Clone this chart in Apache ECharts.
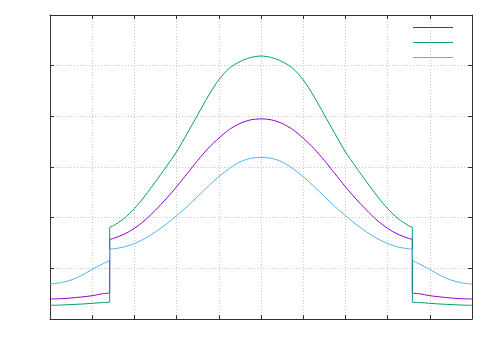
<!DOCTYPE html>
<html>
<head>
<meta charset="utf-8">
<script src="https://cdn.jsdelivr.net/npm/echarts@6/dist/echarts.min.js"></script>
<style>html,body{margin:0;padding:0;background:#fff;}#c{width:500px;height:350px;}</style>
</head>
<body>
<div id="c"></div>
<script>
// x positions (left half, right half mirrored positions)
const xs = [0, 0.25, 0.5, 0.75, 1.0, 1.25, 1.414, 1.414, 1.5, 1.75, 2.0, 2.25, 2.5, 2.75, 3.0, 3.25, 3.5, 3.75, 4.0, 4.25, 4.5, 4.75, 5.0,
            5.25, 5.5, 5.75, 6.0, 6.25, 6.5, 6.75, 7.0, 7.25, 7.5, 7.75, 8.0, 8.25, 8.5, 8.586, 8.586, 8.75, 9.0, 9.25, 9.5, 9.75, 10.0];
const purple = [0.395, 0.40, 0.415, 0.435, 0.46, 0.50, 0.527, 1.56, 1.59, 1.67, 1.79, 1.95, 2.15, 2.37, 2.61, 2.87, 3.13, 3.37, 3.57, 3.74, 3.86, 3.93, 3.95,
                3.93, 3.86, 3.74, 3.57, 3.37, 3.13, 2.87, 2.61, 2.37, 2.15, 1.95, 1.79, 1.67, 1.59, 1.56, 0.527, 0.50, 0.46, 0.435, 0.415, 0.40, 0.395];
const green = [0.27, 0.275, 0.285, 0.295, 0.31, 0.325, 0.335, 1.80, 1.84, 1.98, 2.18, 2.43, 2.71, 3.00, 3.30, 3.66, 4.03, 4.40, 4.72, 4.95, 5.08, 5.16, 5.19,
               5.16, 5.08, 4.95, 4.72, 4.40, 4.03, 3.66, 3.30, 3.00, 2.71, 2.43, 2.18, 1.98, 1.84, 1.80, 0.335, 0.325, 0.31, 0.295, 0.285, 0.275, 0.27];
const blue = [0.69, 0.715, 0.77, 0.86, 0.98, 1.09, 1.18, 1.375, 1.385, 1.42, 1.49, 1.59, 1.72, 1.87, 2.04, 2.22, 2.42, 2.62, 2.81, 2.97, 3.10, 3.17, 3.19,
              3.17, 3.10, 2.97, 2.81, 2.62, 2.42, 2.22, 2.04, 1.87, 1.72, 1.59, 1.49, 1.42, 1.385, 1.375, 1.18, 1.09, 0.98, 0.86, 0.77, 0.715, 0.69];
const seriesNames = ['curve 1', 'curve 2', 'curve 3'];
const colors = ['#9400D3', '#009E73', '#56B4E9'];

const pairs = ys => xs.map((x, i) => [x, ys[i]]);

const axisCommon = {
  axisLine: { show: true, onZero: false, lineStyle: { color: '#333', width: 1 } },
  axisTick: { show: true, inside: true, length: 4, lineStyle: { color: '#333' } },
  axisLabel: { show: false },
  splitLine: { show: false }
};
const gridLine = { show: true, lineStyle: { color: '#c8c8c8', type: [1, 2], width: 1 } };

const chart = echarts.init(document.getElementById('c'), null, { renderer: 'canvas' });
chart.setOption({
  animation: false,
  backgroundColor: '#ffffff',
  grid: { left: 50, top: 15, right: 28, bottom: 31, show: false },
  legend: {
    orient: 'vertical',
    right: 42, top: 22,
    itemWidth: 40, itemHeight: 1,
    itemGap: 14,
    icon: 'rect',
    formatter: () => '',
    data: seriesNames
  },
  xAxis: [
    Object.assign({}, axisCommon, { type: 'value', min: 0, max: 10, interval: 1, position: 'bottom', splitLine: gridLine }),
    Object.assign({}, axisCommon, { type: 'value', min: 0, max: 10, interval: 1, position: 'top' })
  ],
  yAxis: [
    Object.assign({}, axisCommon, { type: 'value', min: 0, max: 6, interval: 1, position: 'left', splitLine: gridLine }),
    Object.assign({}, axisCommon, { type: 'value', min: 0, max: 6, interval: 1, position: 'right' })
  ],
  series: [0, 1, 2].map(k => ({
    name: seriesNames[k], type: 'line', data: pairs([purple, green, blue][k]),
    showSymbol: false, smooth: 0.3,
    lineStyle: { width: 1, color: colors[k] }, itemStyle: { color: colors[k] }
  }))
});
</script>
</body>
</html>
